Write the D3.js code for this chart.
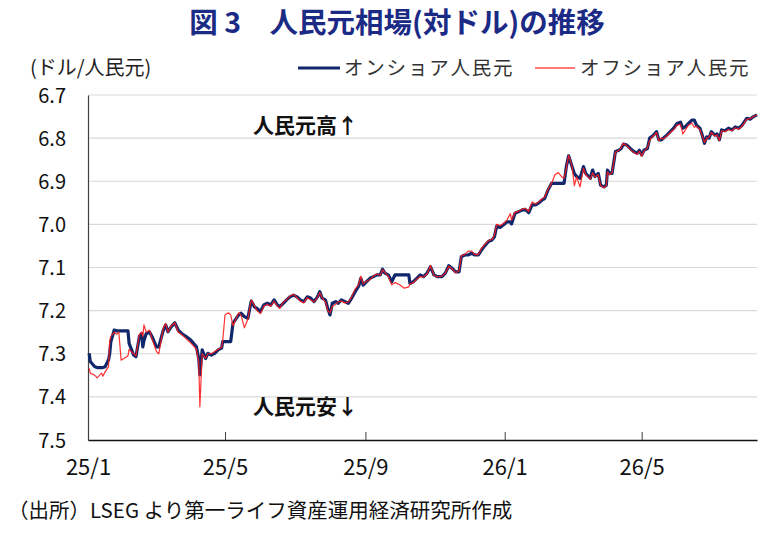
<!DOCTYPE html>
<html>
<head>
<meta charset="utf-8">
<script src="https://cdn.jsdelivr.net/npm/d3@7"></script>
<style>
  body { margin: 0; background: #fff; }
  svg text { font-family: "Noto Sans CJK JP", "Noto Sans", sans-serif; }
</style>
</head>
<body>
<div id="chart"></div>
<script>
'use strict';

// 日付（営業日の読み取り点）
var dates = [
  "2025-01-02","2025-01-03","2025-01-07","2025-01-09","2025-01-13","2025-01-14","2025-01-16","2025-01-19",
  "2025-01-20","2025-01-21","2025-01-24","2025-01-26","2025-01-28","2025-01-30","2025-02-02","2025-02-05",
  "2025-02-06","2025-02-10","2025-02-12","2025-02-15","2025-02-17","2025-02-18","2025-02-19","2025-02-21",
  "2025-02-24","2025-02-26","2025-03-02","2025-03-04","2025-03-08","2025-03-10","2025-03-12","2025-03-15",
  "2025-03-18","2025-03-21","2025-03-24","2025-03-28","2025-04-01","2025-04-06","2025-04-08","2025-04-09",
  "2025-04-11","2025-04-14","2025-04-16","2025-04-19","2025-04-22","2025-04-25","2025-04-28","2025-04-29",
  "2025-05-01","2025-05-04","2025-05-06","2025-05-08","2025-05-13","2025-05-15","2025-05-18","2025-05-21",
  "2025-05-24","2025-05-27","2025-05-29","2025-06-01","2025-06-04","2025-06-07","2025-06-10","2025-06-13",
  "2025-06-16","2025-06-18","2025-06-21","2025-06-24","2025-06-27","2025-06-30","2025-07-03","2025-07-06",
  "2025-07-09","2025-07-12","2025-07-15","2025-07-18","2025-07-21","2025-07-23","2025-07-25","2025-07-28",
  "2025-07-30","2025-08-01","2025-08-03","2025-08-06","2025-08-08","2025-08-11","2025-08-14","2025-08-17",
  "2025-08-20","2025-08-23","2025-08-26","2025-08-28","2025-08-30","2025-09-02","2025-09-05","2025-09-08",
  "2025-09-11","2025-09-14","2025-09-16","2025-09-18","2025-09-21","2025-09-24","2025-09-27","2025-10-01",
  "2025-10-05","2025-10-09","2025-10-10","2025-10-13","2025-10-16","2025-10-19","2025-10-22","2025-10-25",
  "2025-10-28","2025-10-31","2025-11-03","2025-11-07","2025-11-10","2025-11-13","2025-11-16","2025-11-19",
  "2025-11-22","2025-11-24","2025-11-27","2025-11-30","2025-12-03","2025-12-06","2025-12-09","2025-12-12",
  "2025-12-15","2025-12-18","2025-12-21","2025-12-23","2025-12-25","2025-12-28","2025-12-31","2026-01-03",
  "2026-01-06","2026-01-07","2026-01-10","2026-01-13","2026-01-16","2026-01-19","2026-01-22","2026-01-25",
  "2026-01-28","2026-01-31","2026-02-03","2026-02-05","2026-02-08","2026-02-11","2026-02-14","2026-02-17",
  "2026-02-20","2026-02-22","2026-02-24","2026-02-26","2026-03-01","2026-03-03","2026-03-05","2026-03-08",
  "2026-03-11","2026-03-13","2026-03-17","2026-03-19","2026-03-21","2026-03-24","2026-03-26","2026-03-29",
  "2026-03-31","2026-04-01","2026-04-03","2026-04-05","2026-04-08","2026-04-11","2026-04-13","2026-04-15",
  "2026-04-18","2026-04-21","2026-04-24","2026-04-27","2026-04-29","2026-05-01","2026-05-03","2026-05-06",
  "2026-05-08","2026-05-11","2026-05-14","2026-05-16","2026-05-18","2026-05-20","2026-05-23","2026-05-26",
  "2026-05-29","2026-06-01","2026-06-04","2026-06-06","2026-06-08","2026-06-11","2026-06-14","2026-06-16",
  "2026-06-18","2026-06-21","2026-06-23","2026-06-25","2026-06-27","2026-06-29","2026-07-01","2026-07-04",
  "2026-07-06","2026-07-08","2026-07-10","2026-07-13","2026-07-16","2026-07-19","2026-07-22","2026-07-25",
  "2026-07-28","2026-07-30","2026-08-01","2026-08-04","2026-08-07","2026-08-10"
];

// オンショア人民元（CNY）
var onshore = [
  7.299,7.318,7.330,7.332,7.332,7.332,7.330,7.314,
  7.300,7.272,7.245,7.247,7.247,7.247,7.247,7.247,
  7.276,7.303,7.307,7.260,7.253,7.284,7.270,7.253,
  7.250,7.260,7.284,7.284,7.245,7.233,7.249,7.237,
  7.228,7.245,7.253,7.260,7.268,7.284,7.311,7.349,
  7.291,7.311,7.299,7.303,7.299,7.291,7.287,7.272,
  7.272,7.272,7.272,7.229,7.210,7.206,7.214,7.218,
  7.178,7.192,7.195,7.202,7.187,7.183,7.187,7.175,
  7.187,7.191,7.183,7.175,7.168,7.164,7.168,7.175,
  7.179,7.168,7.171,7.179,7.168,7.156,7.171,7.175,
  7.195,7.210,7.183,7.179,7.183,7.175,7.179,7.183,
  7.171,7.156,7.144,7.125,7.141,7.133,7.125,7.121,
  7.117,7.117,7.104,7.113,7.117,7.133,7.117,7.117,
  7.117,7.117,7.137,7.133,7.125,7.117,7.121,7.113,
  7.098,7.117,7.121,7.121,7.113,7.096,7.102,7.110,
  7.110,7.075,7.071,7.071,7.067,7.071,7.071,7.058,
  7.048,7.039,7.036,7.029,7.004,7.007,7.001,6.994,
  6.994,6.999,6.974,6.971,6.967,6.965,6.973,6.955,
  6.955,6.950,6.943,6.940,6.920,6.905,6.905,6.905,
  6.905,6.905,6.866,6.841,6.866,6.882,6.889,6.893,
  6.866,6.882,6.893,6.874,6.889,6.882,6.909,6.913,
  6.909,6.874,6.882,6.882,6.831,6.828,6.824,6.814,
  6.816,6.824,6.831,6.835,6.828,6.839,6.828,6.824,
  6.800,6.794,6.785,6.804,6.804,6.800,6.793,6.785,
  6.777,6.766,6.763,6.777,6.774,6.766,6.758,6.758,
  6.770,6.777,6.793,6.812,6.797,6.800,6.785,6.793,
  6.790,6.804,6.781,6.783,6.777,6.781,6.774,6.777,
  6.770,6.762,6.754,6.756,6.750,6.746
];

// オフショア人民元（CNH）
var offshore = [
  7.334,7.345,7.350,7.356,7.345,7.352,7.342,7.330,
  7.270,7.260,7.250,7.255,7.250,7.315,7.310,7.305,
  7.290,7.300,7.305,7.255,7.250,7.260,7.233,7.250,
  7.245,7.265,7.295,7.300,7.240,7.230,7.250,7.235,
  7.228,7.250,7.255,7.265,7.275,7.290,7.320,7.423,
  7.300,7.310,7.300,7.300,7.295,7.290,7.285,7.270,
  7.210,7.205,7.210,7.235,7.205,7.210,7.240,7.220,
  7.175,7.190,7.200,7.207,7.190,7.185,7.190,7.178,
  7.190,7.195,7.180,7.175,7.166,7.162,7.170,7.178,
  7.182,7.170,7.175,7.180,7.170,7.158,7.170,7.180,
  7.200,7.205,7.190,7.185,7.180,7.178,7.182,7.180,
  7.168,7.150,7.140,7.120,7.138,7.132,7.128,7.120,
  7.115,7.118,7.105,7.112,7.120,7.140,7.135,7.140,
  7.148,7.145,7.138,7.135,7.127,7.121,7.122,7.115,
  7.095,7.118,7.122,7.120,7.113,7.097,7.103,7.112,
  7.108,7.073,7.070,7.062,7.062,7.070,7.070,7.055,
  7.045,7.037,7.035,7.025,7.000,7.003,6.998,6.990,
  6.975,6.990,6.972,6.970,6.965,6.963,6.970,6.948,
  6.953,6.948,6.940,6.937,6.918,6.905,6.885,6.880,
  6.890,6.893,6.870,6.840,6.865,6.910,6.890,6.913,
  6.870,6.885,6.895,6.880,6.890,6.885,6.910,6.915,
  6.910,6.878,6.885,6.880,6.833,6.828,6.822,6.812,
  6.818,6.826,6.833,6.838,6.830,6.842,6.830,6.822,
  6.805,6.795,6.787,6.806,6.800,6.802,6.795,6.787,
  6.780,6.770,6.768,6.790,6.782,6.770,6.765,6.775,
  6.772,6.780,6.795,6.810,6.800,6.798,6.787,6.795,
  6.792,6.806,6.783,6.785,6.780,6.783,6.776,6.779,
  6.772,6.764,6.756,6.755,6.750,6.746
];

var yTicks = [6.7, 6.8, 6.9, 7.0, 7.1, 7.2, 7.3, 7.4, 7.5];
var xTickDates = ["2025-01-01", "2025-05-01", "2025-09-01", "2026-01-01", "2026-05-01"];
var xTickLabels = ["25/1", "25/5", "25/9", "26/1", "26/5"];
var xDomain = ["2025-01-01", "2026-08-10"];
var seriesNames = ["オンショア人民元", "オフショア人民元"];

var myChart = {};

myChart.width = 780;
myChart.height = 549;
myChart.left = 88;
myChart.right = 757;
myChart.top = 95;
myChart.bottom = 440;

var parseDate = d3.timeParse("%Y-%m-%d");

myChart.appendSVG = function(div){
    var svg = d3.select(div).append("svg")
                .attr("width", myChart.width)
                .attr("height", myChart.height);
    return svg;
}

myChart.createScaleX = function(){
    var xScale = d3.scaleTime()
                    .domain(xDomain.map(parseDate))
                    .range([myChart.left, myChart.right]);
    return xScale;
}

myChart.createScaleY = function(){
    var yScale = d3.scaleLinear()
                    .domain([6.7, 7.5])
                    .range([myChart.top, myChart.bottom]);
    return yScale;
}

myChart.createGrid = function(svg){
    var xScale = myChart.createScaleX();
    var yScale = myChart.createScaleY();

    svg.append("g")
        .selectAll("line")
        .data(yTicks.slice(0, yTicks.length - 1))
        .enter()
            .append("line")
            .attr("x1", myChart.left)
            .attr("x2", myChart.right)
            .attr("y1", function(d){ return yScale(d); })
            .attr("y2", function(d){ return yScale(d); })
            .style("stroke", "#d9d9d9")
            .style("stroke-width", 1.2);

    // 縦軸
    var yAxis = d3.axisLeft(yScale)
                    .tickValues(yTicks)
                    .tickFormat(d3.format(".1f"))
                    .tickSize(0)
                    .tickPadding(22);
    var gy = svg.append("g")
        .attr("transform", "translate(" + myChart.left + ",0)")
        .call(yAxis);
    gy.select(".domain").style("stroke", "#404040").style("stroke-width", 1.2);
    gy.selectAll("text")
        .style("font-size", "20px")
        .style("fill", "#111")
        .attr("dy", "0.35em");

    // 横軸
    var xAxis = d3.axisBottom(xScale)
                    .tickValues(xTickDates.map(parseDate))
                    .tickFormat(function(d, i){ return xTickLabels[i]; })
                    .tickSizeInner(-8)
                    .tickSizeOuter(0)
                    .tickPadding(19);
    var gx = svg.append("g")
        .attr("transform", "translate(0," + myChart.bottom + ")")
        .call(xAxis);
    gx.select(".domain").style("stroke", "#111").style("stroke-width", 1.4);
    gx.selectAll(".tick line").style("stroke", "#404040");
    gx.selectAll("text")
        .style("font-size", "22px")
        .style("fill", "#111");
}

myChart.createLines = function(svg){
    var xScale = myChart.createScaleX();
    var yScale = myChart.createScaleY();

    var line = d3.line()
                .x(function(d){ return xScale(d.date); })
                .y(function(d){ return yScale(d.value); });

    var onData = dates.map(function(d, i){ return { date: parseDate(d), value: onshore[i] }; });
    var offData = dates.map(function(d, i){ return { date: parseDate(d), value: offshore[i] }; });

    svg.append("path")
        .datum(onData)
        .attr("d", line)
        .style("fill", "none")
        .style("stroke", "#10286b")
        .style("stroke-width", 3.2)
        .style("stroke-linejoin", "round");

    svg.append("path")
        .datum(offData)
        .attr("d", line)
        .style("fill", "none")
        .style("stroke", "#ff1a1a")
        .style("stroke-width", 1.2)
        .style("stroke-opacity", 0.9)
        .style("stroke-linejoin", "round");
}

myChart.createTexts = function(svg){
    svg.append("text")
        .attr("x", 397)
        .attr("y", 33)
        .attr("text-anchor", "middle")
        .style("font-size", "28.5px")
        .style("font-weight", "bold")
        .style("fill", "#1b2a85")
        .text("図 3　人民元相場(対ドル)の推移");

    svg.append("text")
        .attr("x", 30)
        .attr("y", 75)
        .style("font-size", "20px")
        .style("fill", "#222")
        .text("(ドル/人民元)");

    // 凡例
    var legend = svg.append("g");
    legend.append("line")
        .attr("x1", 298).attr("x2", 340)
        .attr("y1", 68).attr("y2", 68)
        .style("stroke", "#10286b").style("stroke-width", 3);
    legend.append("text")
        .attr("x", 344).attr("y", 75)
        .style("font-size", "19.5px").style("fill", "#333")
        .style("letter-spacing", "1.8px")
        .text(seriesNames[0]);
    legend.append("line")
        .attr("x1", 535).attr("x2", 575)
        .attr("y1", 68).attr("y2", 68)
        .style("stroke", "#ff4d4d").style("stroke-width", 1.5);
    legend.append("text")
        .attr("x", 580).attr("y", 75)
        .style("font-size", "19.5px").style("fill", "#333")
        .style("letter-spacing", "1.8px")
        .text(seriesNames[1]);

    svg.append("text")
        .attr("x", 253).attr("y", 133)
        .style("font-size", "21px").style("font-weight", "bold").style("fill", "#111")
        .text("人民元高↑");

    svg.append("text")
        .attr("x", 253).attr("y", 414)
        .style("font-size", "21px").style("font-weight", "bold").style("fill", "#111")
        .text("人民元安↓");

    svg.append("text")
        .attr("x", 8).attr("y", 518)
        .style("font-size", "20.5px").style("fill", "#111")
        .text("（出所）LSEG より第一ライフ資産運用経済研究所作成");
}

myChart.run = function(){
    var svg = myChart.appendSVG("#chart");
    myChart.createGrid(svg);
    myChart.createLines(svg);
    myChart.createTexts(svg);
}

window.onload = myChart.run;
</script>
</body>
</html>
